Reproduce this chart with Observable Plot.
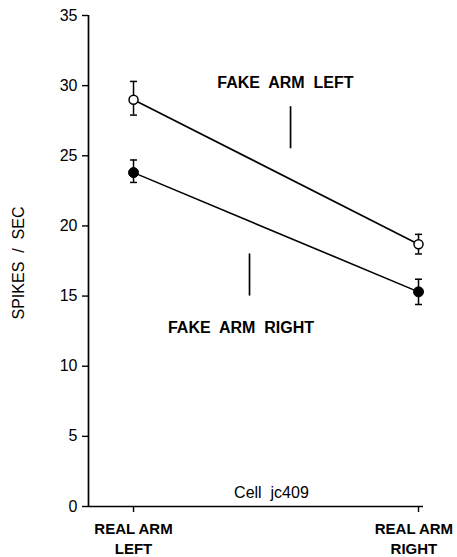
<!DOCTYPE html>
<html>
<head>
<meta charset="utf-8">
<script src="https://cdn.jsdelivr.net/npm/d3@7"></script>
<script src="https://cdn.jsdelivr.net/npm/@observablehq/plot@0.6"></script>
<style>
  html, body { margin: 0; padding: 0; background: #fff; }
  svg { font-family: "Liberation Sans", Arial, Helvetica, sans-serif; }
</style>
</head>
<body>
<div id="chart"></div>
<script>
// Categories (x)
const categories = ["REAL ARM\nLEFT", "REAL ARM\nRIGHT"];
const categoryLabelX = [0, 0.984];
// Y ticks
const yTicks = [0, 5, 10, 15, 20, 25, 30, 35];
const yLabel = "SPIKES  /  SEC";
// Series: Fake arm left (open circles)
const fakeLeftMean = [29.0, 18.7];
const fakeLeftHigh = [30.3, 19.4];
const fakeLeftLow  = [27.9, 18.0];
// Series: Fake arm right (filled circles)
const fakeRightMean = [23.8, 15.3];
const fakeRightHigh = [24.7, 16.2];
const fakeRightLow  = [23.1, 14.4];
// Annotation labels (in data units: category index, spikes/sec)
const annLabels = ["FAKE  ARM  LEFT", "FAKE  ARM  RIGHT"];
const annTextX = [0.533, 0.377];
const annTextY = [30.2, 12.7];
const annLineX = [0.551, 0.407];
const annLineY1 = [25.5, 15.0];
const annLineY2 = [28.5, 18.0];
const cellLabel = "Cell  jc409";
const cellX = 0.484, cellY = 0.96;

const xDomain = [-0.158, 1.0175];

const rows = [];
categories.forEach((c, i) => {
  rows.push({series: "left", x: i, y: fakeLeftMean[i], hi: fakeLeftHigh[i], lo: fakeLeftLow[i]});
  rows.push({series: "right", x: i, y: fakeRightMean[i], hi: fakeRightHigh[i], lo: fakeRightLow[i]});
});
const ann = annLabels.map((t, i) => ({t, tx: annTextX[i], ty: annTextY[i], lx: annLineX[i], y1: annLineY1[i], y2: annLineY2[i]}));
const catRows = categories.map((c, i) => ({c, x: categoryLabelX[i]}));

const cap = {
  draw(context, size) {
    const r = Math.sqrt(size / Math.PI);
    context.moveTo(-r, 0);
    context.lineTo(r, 0);
  }
};

const font = '"Liberation Sans", Arial, Helvetica, sans-serif';

const chart = Plot.plot({
  width: 457,
  height: 557,
  marginLeft: 88,
  marginRight: 34,
  marginTop: 15,
  marginBottom: 51,
  style: {fontFamily: font, background: "#fff", color: "#000"},
  x: {domain: xDomain, axis: null},
  y: {domain: [0, 35], axis: null},
  marks: [
    Plot.ruleY([0], {stroke: "#000", strokeWidth: 1.7}),
    Plot.ruleX([xDomain[0]], {stroke: "#000", strokeWidth: 1.7}),
    Plot.axisY({ticks: yTicks, tickSize: 6, tickPadding: 5, fontSize: 16, letterSpacing: 0.5, label: null, strokeWidth: 1.4}),
    Plot.axisX({ticks: [0, 1], tickFormat: () => "", tickSize: 6, label: null, strokeWidth: 1.4}),
    Plot.text(catRows, {x: "x", text: "c", frameAnchor: "bottom", lineAnchor: "top", dy: 14, fontSize: 15, fontWeight: "bold", lineHeight: 1.3, letterSpacing: 1, fill: "#000"}),
    Plot.text([yLabel], {frameAnchor: "left", textAnchor: "middle", dx: -70, dy: 2, rotate: -90, fontSize: 16, letterSpacing: 0.3, fill: "#000"}),
    Plot.line(rows, {x: "x", y: "y", z: "series", stroke: "#000", strokeWidth: 1.6}),
    Plot.ruleX(rows, {x: "x", y1: "lo", y2: "hi", stroke: "#000", strokeWidth: 1.5}),
    Plot.dot(rows, {x: "x", y: "hi", symbol: cap, r: 3.5, stroke: "#000", strokeWidth: 1.5, fill: "none"}),
    Plot.dot(rows, {x: "x", y: "lo", symbol: cap, r: 3.5, stroke: "#000", strokeWidth: 1.5, fill: "none"}),
    Plot.dot(rows.filter(d => d.series === "left"), {x: "x", y: "y", r: 4.5, fill: "#fff", stroke: "#000", strokeWidth: 1.5}),
    Plot.dot(rows.filter(d => d.series === "right"), {x: "x", y: "y", r: 5, fill: "#000", stroke: "#000", strokeWidth: 1}),
    Plot.ruleX(ann, {x: "lx", y1: "y1", y2: "y2", stroke: "#000", strokeWidth: 1.7}),
    Plot.text(ann, {x: "tx", y: "ty", text: "t", fontSize: 16, fontWeight: "bold", letterSpacing: 1.6, fill: "#000"}),
    Plot.text([cellLabel], {x: () => cellX, y: () => cellY, fontSize: 16, letterSpacing: 0.6, fill: "#000"})
  ]
});
document.getElementById("chart").appendChild(chart);
</script>
</body>
</html>
